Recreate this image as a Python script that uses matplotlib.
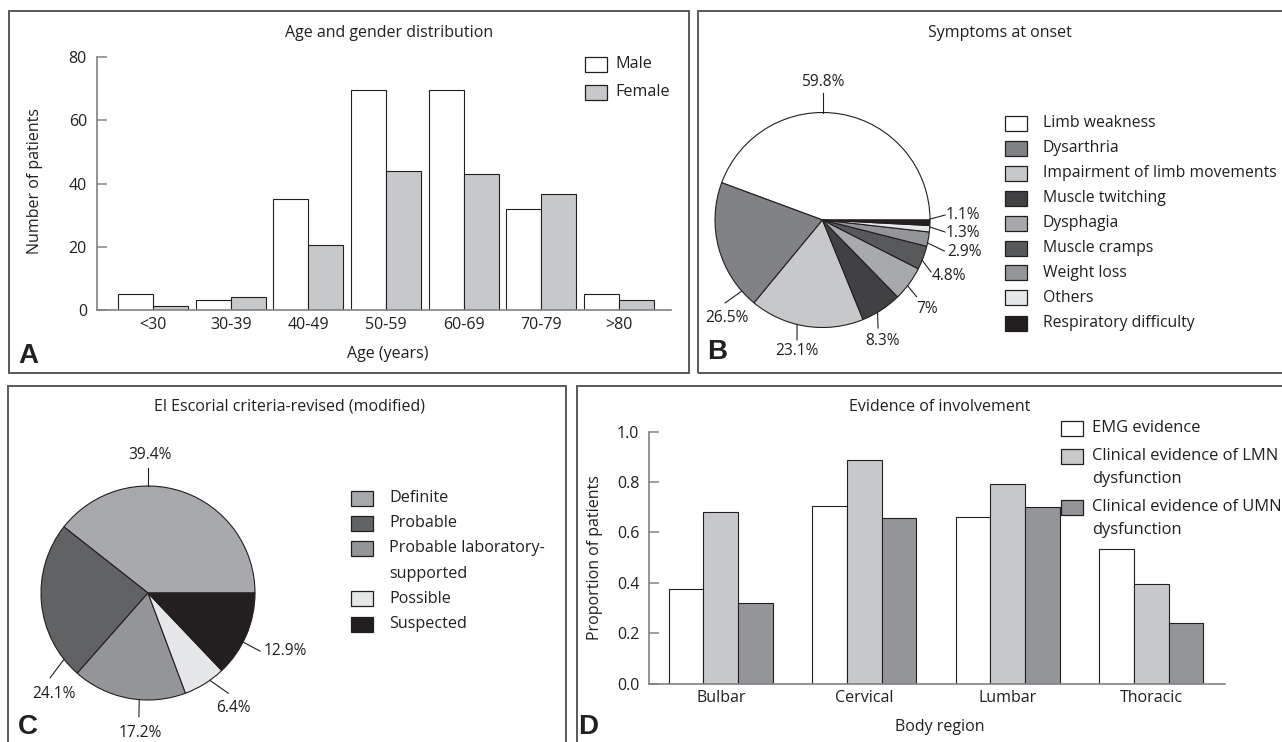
import numpy as np
import matplotlib
matplotlib.use("Agg")
import matplotlib.pyplot as plt
from matplotlib.patches import Rectangle

# --- data ---
age_groups = ["<30", "30-39", "40-49", "50-59", "60-69", "70-79", ">80"]
male = [5, 3.2, 35, 69.8, 69.8, 32, 5.1]
female = [1.3, 4.1, 20.7, 44.1, 42.9, 36.8, 3.2]

symptoms = ["Limb weakness", "Dysarthria", "Impairment of limb movements",
            "Muscle twitching", "Dysphagia", "Muscle cramps", "Weight loss",
            "Others", "Respiratory difficulty"]
symptom_pct = [59.8, 26.5, 23.1, 8.3, 7, 4.8, 2.9, 1.3, 1.1]

criteria = ["Definite", "Probable", "Probable laboratory-\nsupported",
            "Possible", "Suspected"]
criteria_pct = [39.4, 24.1, 17.2, 6.4, 12.9]

regions = ["Bulbar", "Cervical", "Lumbar", "Thoracic"]
emg = [0.376, 0.705, 0.663, 0.536]
lmn = [0.683, 0.886, 0.791, 0.394]
umn = [0.32, 0.657, 0.70, 0.239]
evidence_labels = ["EMG evidence", "Clinical evidence of LMN\ndysfunction",
                   "Clinical evidence of UMN\ndysfunction"]

# --- style ---
W, H = 1282, 742
INK = "#231f20"
FRAME = "#58595b"
AXIS = "#808285"
plt.rcParams["font.family"] = ["Open Sans", "DejaVu Sans"]
plt.rcParams["text.color"] = INK

symptom_colors = ["#ffffff", "#808285", "#c7c8ca", "#414042", "#a7a9ac",
                  "#58595b", "#939598", "#e6e7e8", INK]
criteria_colors = ["#a7a9ac", "#616264", "#939598", "#e6e7e8", INK]
bar_colors = ["#ffffff", "#c7c8ca", "#939598"]

# label leaders: (start angle, end angle, end radius, text angle, text radius)
symptom_leaders = [(90, 90, 1.18, 90, 1.28), (221.4, 220.4, 1.19, 225.7, 1.27),
                   (256.3, 258, 1.14, 258.9, 1.24), (300.8, 297.2, 1.13, 296.4, 1.26),
                   (322.3, 320.8, 1.13, 319.6, 1.28), (338, 334.4, 1.12, 336, 1.29),
                   (347.7, 345.7, 1.17, 347.2, 1.35), (356.3, 354.4, 1.145, 354.7, 1.31),
                   (0.5, 2.3, 1.14, 2, 1.31)]
criteria_leaders = [(90, 90, 1.17, 89, 1.29), (218.3, 220.9, 1.21, 226.8, 1.29),
                    (265.3, 265.8, 1.16, 266.7, 1.31), (305.3, 308.7, 1.20, 306.7, 1.34),
                    (332.7, 332.6, 1.18, 337.1, 1.39)]

TITLE = 11.5
LABEL = 11.5
TICK = 11.5
PCT = 11.2


def fig_rect(l, t, r, b):
    return [l / W, 1 - b / H, (r - l) / W, (b - t) / H]


def ftext(fig, x, y, s, **kw):
    kw.setdefault("ha", "center")
    kw.setdefault("va", "center")
    fig.text(x / W, 1 - y / H, s, **kw)


def frame(fig, l, t, r, b):
    fig.add_artist(Rectangle((l / W, 1 - b / H), (r - l) / W, (b - t) / H,
                             transform=fig.transFigure, fill=False,
                             ec=FRAME, lw=1.4))


def box_legend(fig, labels, colors, x_box, x_text, y0, line_dy, gap, size=11.6):
    y = y0
    for lab, col in zip(labels, colors):
        fig.add_artist(Rectangle((x_box / W, 1 - (y + 7.5) / H), 22 / W, 15 / H,
                                 transform=fig.transFigure, fc=col, ec=INK, lw=0.9))
        lines = lab.split("\n")
        for k, line in enumerate(lines):
            ftext(fig, x_text, y + k * line_dy, line, ha="left", size=size)
        y += len(lines) * line_dy + gap


def style_bar_axes(ax):
    for s in ["top", "right"]:
        ax.spines[s].set_visible(False)
    ax.spines["left"].set_color(AXIS)
    ax.spines["bottom"].set_color(AXIS)
    ax.spines["left"].set_linewidth(1.2)
    ax.spines["bottom"].set_linewidth(1.2)
    ax.tick_params(axis="y", direction="in", length=7, width=1.1, color=AXIS,
                   pad=7, labelsize=TICK, labelcolor=INK)
    ax.tick_params(axis="x", length=0, pad=5, labelsize=TICK, labelcolor=INK)


def pie_panel(fig, cx, cy, r, values, colors, leaders):
    ax = fig.add_axes(fig_rect(cx - 1.5 * r, cy - 1.5 * r, cx + 1.5 * r, cy + 1.5 * r))
    ax.pie(values, colors=colors, startangle=0, counterclock=True,
           wedgeprops=dict(edgecolor=INK, linewidth=0.8))
    ax.set_xlim(-1.5, 1.5)
    ax.set_ylim(-1.5, 1.5)
    ax.set_aspect("equal")
    ax.axis("off")
    for v, (a0, a1, r1, at, rt) in zip(values, leaders):
        t0, t1, tt = np.radians([a0, a1, at])
        ax.plot([np.cos(t0), r1 * np.cos(t1)], [np.sin(t0), r1 * np.sin(t1)],
                color=INK, lw=0.8)
        ax.text(rt * np.cos(tt), rt * np.sin(tt), f"{v:g}%", ha="center",
                va="center", size=PCT)
    return ax


fig = plt.figure(figsize=(W / 100, H / 100), dpi=100)

# panel frames
frame(fig, 9, 11, 689, 373)
frame(fig, 698, 11, 1300, 373)
frame(fig, 8, 386, 566, 760)
frame(fig, 577, 386, 1300, 760)

# A: age and gender bars
axA = fig.add_axes(fig_rect(96.7, 57.3, 671, 310))
x = np.arange(len(age_groups))
bw = 0.45
axA.bar(x - bw / 2, male, bw, color=bar_colors[0], edgecolor=INK, lw=0.8)
axA.bar(x + bw / 2, female, bw, color=bar_colors[1], edgecolor=INK, lw=0.8)
axA.set_xlim(-0.725, 6.669)
axA.set_ylim(0, 80)
axA.set_yticks([0, 20, 40, 60, 80])
axA.set_xticks(x, age_groups)
style_bar_axes(axA)
ftext(fig, 389, 33, "Age and gender distribution", size=TITLE)
ftext(fig, 35, 181, "Number of patients", rotation=90, size=LABEL)
ftext(fig, 388, 354, "Age (years)", size=LABEL)
box_legend(fig, ["Male", "Female"], bar_colors[:2], 585, 615, 64, 28, 0)

# B: symptoms pie
pie_panel(fig, 822.5, 220, 107.5, symptom_pct, symptom_colors, symptom_leaders)
ftext(fig, 1000, 33, "Symptoms at onset", size=TITLE)
box_legend(fig, symptoms, symptom_colors, 1005, 1043, 123, 25, 0, size=11.3)

# C: El Escorial pie
pie_panel(fig, 148, 593, 107, criteria_pct, criteria_colors, criteria_leaders)
ftext(fig, 290, 407, "El Escorial criteria-revised (modified)", size=TITLE)
box_legend(fig, criteria, criteria_colors, 351, 389, 498, 25.2, 0)

# D: evidence of involvement
axD = fig.add_axes(fig_rect(649, 431.7, 1224.5, 683.5))
xr = np.arange(len(regions))
bw = 0.242
for k, (vals, col) in enumerate(zip([emg, lmn, umn], bar_colors)):
    axD.bar(xr + (k - 1) * bw, vals, bw, color=col, edgecolor=INK, lw=0.8)
axD.set_xlim(-0.5, 3.51)
axD.set_ylim(0, 1.0)
axD.set_yticks(np.arange(0, 1.01, 0.2))
axD.yaxis.set_major_formatter(matplotlib.ticker.FormatStrFormatter("%.1f"))
axD.set_xticks(xr, regions)
style_bar_axes(axD)
ftext(fig, 940, 407, "Evidence of involvement", size=TITLE)
ftext(fig, 595, 558, "Proportion of patients", rotation=90, size=LABEL)
ftext(fig, 940, 727, "Body region", size=LABEL)
box_legend(fig, evidence_labels, bar_colors, 1061, 1092, 428, 23, 5, size=11.9)

# panel letters
for lab, (px, py) in zip("ABCD", [(28, 356), (717, 352), (28, 727), (588, 727)]):
    ftext(fig, px, py, lab, size=20, weight="bold", family="Liberation Sans")

fig.savefig("out.png", dpi=100)
